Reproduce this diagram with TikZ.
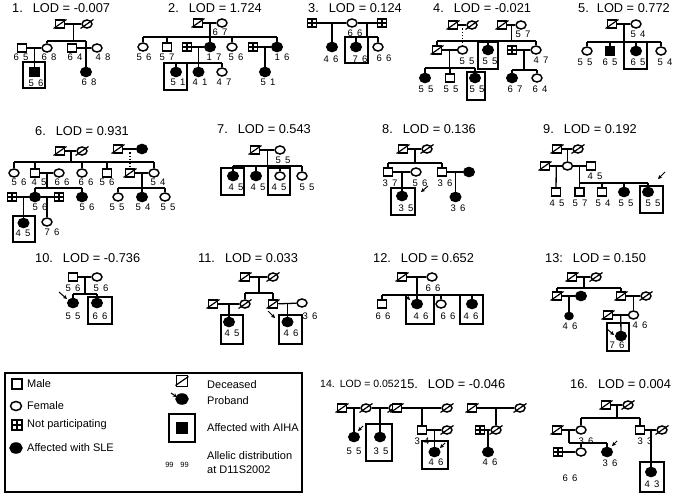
\documentclass[tikz,border=0pt]{standalone}
\usepackage{fontspec}
\setmainfont{Liberation Sans}
\usetikzlibrary{shapes.geometric,calc,arrows.meta}
\newcommand{\allel}[2]{#1\hspace{0.45em}#2}
\newcommand{\dcs}[1]{\draw[slash] ([shift={(-6.5,4.5)}]#1.center) -- ([shift={(6.5,-4.5)}]#1.center);}
\newcommand{\mate}[3]{\draw[ped] (#1) -- (#2); \coordinate (#3) at ($(#1)!.5!(#2)$);}
\begin{document}
\begin{tikzpicture}[x=1pt,y=-1pt,
 ped/.style={line width=1.3pt},
 sym/.style={draw, line width=1.5pt, inner sep=0pt, fill=white},
 male/.style={sym, rectangle, minimum width=9pt, minimum height=8pt},
 female/.style={sym, ellipse, minimum width=10pt, minimum height=8pt},
 affm/.style={male, fill=black},
 afff/.style={female, fill=black, minimum width=10.5pt, minimum height=9pt},
 np/.style={male, path picture={\draw[line width=1.6pt] (path picture bounding box.north) -- (path picture bounding box.south) (path picture bounding box.west) -- (path picture bounding box.east);}},
 al/.style={font=\fontsize{9.5}{10}\selectfont, inner sep=0pt},
 ttl/.style={font=\fontsize{12.8}{14}\selectfont, inner sep=0pt, anchor=west},
 lg/.style={font=\fontsize{11}{13}\selectfont, inner sep=0pt, anchor=west},
 abox/.style={draw, line width=1.1pt},
 slash/.style={line width=1.2pt},
 prob/.style={-{Stealth[length=4pt,width=4pt]}, line width=1pt}]
\useasboundingbox[fill=white] (0,0) rectangle (700,500);

% ---------- Family 1
\node[ttl] (t1) at (12,8) {1.\hspace{10pt}LOD = -0.007};
\node[male] (a1) at (60,24) {};
\node[female] (b1) at (87,24) {};
\node[male] (c1) at (22,48) {};
\node[female] (d1) at (47,48) {};
\node[male] (e1) at (72,48) {};
\node[female] (f1) at (97,48) {};
\node[affm] (g1) at (34.5,72) {};
\node[afff] (h1) at (86,72) {};
\dcs{a1}\dcs{b1}
\mate{a1}{b1}{m1a}
\coordinate (s1a) at (0,41);
\draw[ped] (m1a) -- (m1a |- s1a);
\draw[ped] (d1 |- s1a) -- (h1 |- s1a);
\draw[ped] (d1 |- s1a) -- (d1);
\draw[ped] (h1 |- s1a) -- (h1);
\mate{c1}{d1}{m1b}
\draw[ped] (m1b) -- (g1);
\mate{e1}{f1}{m1c}
\draw[abox] (23,62) rectangle (45,88);
\node[al] (l1a) at (21,57) {\allel{6}{5}};
\node[al] (l1b) at (49,57) {\allel{6}{8}};
\node[al] (l1c) at (75,57) {\allel{6}{4}};
\node[al] (l1d) at (103,57) {\allel{4}{8}};
\node[al] (l1e) at (36,83) {\allel{5}{6}};
\node[al] (l1f) at (89,82) {\allel{6}{8}};

% ---------- Family 2
\node[ttl] (t2) at (168,8) {2.\hspace{10pt}LOD = 1.724};
\node[male] (a2) at (198,23) {};
\node[female] (b2) at (222,23) {};
\node[female] (c2) at (143,47) {};
\node[male] (d2) at (167,47) {};
\node[np] (e2) at (187,47) {};
\node[afff] (f2) at (210,47) {};
\node[female] (g2) at (232,47) {};
\node[np] (h2) at (253,47) {};
\node[afff] (i2) at (277,47) {};
\node[afff] (j2) at (176,72) {};
\node[afff] (k2) at (198.5,72) {};
\node[female] (l2) at (222,72) {};
\node[afff] (m2) at (265,72) {};
\dcs{a2}
\mate{a2}{b2}{m2a}
\coordinate (s2a) at (0,37);
\draw[ped] (m2a) -- (m2a |- s2a);
\draw[ped] (c2 |- s2a) -- (i2 |- s2a);
\foreach \n in {c2,d2,f2,g2,i2} \draw[ped] (\n |- s2a) -- (\n);
\mate{e2}{f2}{m2b}
\coordinate (s2b) at (0,63);
\draw[ped] (m2b) -- (m2b |- s2b);
\draw[ped] (j2 |- s2b) -- (l2 |- s2b);
\foreach \n in {j2,k2,l2} \draw[ped] (\n |- s2b) -- (\n);
\mate{h2}{i2}{m2c}
\draw[ped] (m2c) -- (m2);
\draw[abox] (164,63) rectangle (187,90);
\node[al] (l2a) at (220,32) {\allel{6}{7}};
\node[al] (l2b) at (144,57) {\allel{5}{6}};
\node[al] (l2c) at (167,57) {\allel{5}{7}};
\node[al] (l2d) at (214,57) {\allel{1}{7}};
\node[al] (l2e) at (236,57) {\allel{5}{6}};
\node[al] (l2f) at (282,57) {\allel{1}{6}};
\node[al] (l2g) at (178,82) {\allel{5}{1}};
\node[al] (l2h) at (200,82) {\allel{4}{1}};
\node[al] (l2i) at (224,82) {\allel{4}{7}};
\node[al] (l2j) at (268,82) {\allel{5}{1}};

% ---------- Family 3
\node[ttl] (t3) at (308,8) {3.\hspace{10pt}LOD = 0.124};
\node[np] (a3) at (312,23) {};
\node[female] (b3) at (352,23) {};
\node[np] (c3) at (382,23) {};
\node[afff] (d3) at (332,47) {};
\node[afff] (e3) at (356,47) {};
\node[female] (f3) at (378,47) {};
\mate{a3}{b3}{m3a}
\draw[ped] (m3a) -- (d3);
\mate{b3}{c3}{m3b}
\coordinate (s3a) at (0,37);
\draw[ped] (m3b) -- (m3b |- s3a);
\draw[ped] (e3 |- s3a) -- (f3 |- s3a);
\foreach \n in {e3,f3} \draw[ped] (\n |- s3a) -- (\n);
\draw[abox] (345,37) rectangle (368,63);
\node[al] (l3a) at (355,33) {\allel{6}{6}};
\node[al] (l3b) at (331,59) {\allel{4}{6}};
\node[al] (l3c) at (360,59) {\allel{7}{6}};
\node[al] (l3d) at (384,58) {\allel{6}{6}};

% ---------- Family 4
\node[ttl] (t4) at (433,8) {4.\hspace{10pt}LOD = -0.021};
\node[male] (a4) at (453,25) {};
\node[female] (b4) at (472,25) {};
\node[male] (c4) at (502,25) {};
\node[female] (d4) at (521,25) {};
\node[male] (e4) at (437,50) {};
\node[female] (f4) at (462.5,50) {};
\node[afff] (g4) at (488,50) {};
\node[np] (h4) at (512,50) {};
\node[female] (i4) at (536,50) {};
\node[afff] (j4) at (425,78) {};
\node[male] (k4) at (450,78) {};
\node[afff] (l4) at (475,78) {};
\node[afff] (m4) at (512,78) {};
\node[female] (n4) at (537,78) {};
\dcs{a4}\dcs{b4}\dcs{c4}\dcs{e4}
\mate{a4}{b4}{m4a}
\draw[ped, dotted] (m4a) -- (f4);
\mate{c4}{d4}{m4b}
\coordinate (s4a) at (0,41);
\draw[ped] (m4b) -- (m4b |- s4a);
\draw[ped] (e4 |- s4a) -- (i4 |- s4a);
\foreach \n in {e4,g4,i4} \draw[ped] (\n |- s4a) -- (\n);
\mate{e4}{f4}{m4c}
\coordinate (s4b) at (0,68);
\draw[ped] (m4c) -- (m4c |- s4b);
\draw[ped] (j4 |- s4b) -- (l4 |- s4b);
\foreach \n in {j4,k4,l4} \draw[ped] (\n |- s4b) -- (\n);
\mate{h4}{i4}{m4d}
\coordinate (s4c) at (0,70);
\draw[ped] (m4d) -- (m4d |- s4c);
\draw[ped] (m4 |- s4c) -- (n4 |- s4c);
\foreach \n in {m4,n4} \draw[ped] (\n |- s4c) -- (\n);
\draw[abox] (478,42) rectangle (498,69);
\draw[abox] (467,72) rectangle (485,100);
\node[al] (l4a) at (523,34) {\allel{5}{7}};
\node[al] (l4b) at (467,61) {\allel{5}{5}};
\node[al] (l4c) at (490,61) {\allel{5}{5}};
\node[al] (l4d) at (541,60) {\allel{4}{7}};
\node[al] (l4e) at (426,89) {\allel{5}{5}};
\node[al] (l4f) at (451,89) {\allel{5}{5}};
\node[al] (l4g) at (477,89) {\allel{5}{5}};
\node[al] (l4h) at (515,89) {\allel{6}{7}};
\node[al] (l4i) at (540,89) {\allel{6}{4}};

% ---------- Family 5
\node[ttl] (t5) at (578,8) {5.\hspace{8pt}LOD = 0.772};
\node[male] (a5) at (612,24) {};
\node[female] (b5) at (636,24) {};
\node[female] (c5) at (587,51) {};
\node[affm] (d5) at (610,51) {};
\node[afff] (e5) at (636,51) {};
\node[female] (f5) at (661,51) {};
\dcs{a5}
\mate{a5}{b5}{m5a}
\coordinate (s5a) at (0,42);
\draw[ped] (m5a) -- (m5a |- s5a);
\draw[ped] (c5 |- s5a) -- (f5 |- s5a);
\foreach \n in {c5,d5,e5,f5} \draw[ped] (\n |- s5a) -- (\n);
\draw[abox] (624,42) rectangle (647,69);
\node[al] (l5a) at (638,34) {\allel{5}{4}};
\node[al] (l5b) at (585,62) {\allel{5}{5}};
\node[al] (l5c) at (610,62) {\allel{6}{5}};
\node[al] (l5d) at (638,62) {\allel{6}{5}};
\node[al] (l5e) at (665,62) {\allel{5}{4}};

% ---------- Family 6
\node[ttl] (t6) at (35,131) {6.\hspace{10pt}LOD = 0.931};
\node[male] (a6) at (60,151) {};
\node[female] (b6) at (82,151) {};
\node[male] (c6) at (118,149) {};
\node[afff] (d6) at (142,149) {};
\node[female] (e6) at (14,173) {};
\node[male] (f6) at (35,173) {};
\node[female] (g6) at (59,173) {};
\node[female] (h6) at (82,173) {};
\node[male] (i6) at (107,173) {};
\node[male] (j6) at (130,173) {};
\node[female] (k6) at (154,173) {};
\node[np] (n6) at (12,197) {};
\node[afff] (l6) at (35,197) {};
\node[np] (o6) at (59,197) {};
\node[afff] (m6) at (82,197) {};
\node[female] (p6) at (118,197) {};
\node[afff] (q6) at (142,197) {};
\node[female] (r6) at (165,197) {};
\node[afff] (s6) at (23.5,223) {};
\node[female] (t6b) at (47,222) {};
\dcs{a6}\dcs{b6}\dcs{c6}\dcs{j6}
\mate{a6}{b6}{m6a}
\coordinate (s6a) at (0,162);
\draw[ped] (m6a) -- (m6a |- s6a);
\draw[ped] (e6 |- s6a) -- (k6 |- s6a);
\foreach \n in {e6,f6,h6,i6,k6} \draw[ped] (\n |- s6a) -- (\n);
\mate{c6}{d6}{m6b}
\draw[ped, dotted] (m6b) -- (j6);
\mate{f6}{g6}{m6c}
\coordinate (s6b) at (0,188);
\draw[ped] (m6c) -- (m6c |- s6b);
\draw[ped] (l6 |- s6b) -- (m6 |- s6b);
\foreach \n in {l6,m6} \draw[ped] (\n |- s6b) -- (\n);
\mate{j6}{k6}{m6d}
\draw[ped] (m6d) -- (m6d |- s6b);
\draw[ped] (p6 |- s6b) -- (r6 |- s6b);
\foreach \n in {p6,q6,r6} \draw[ped] (\n |- s6b) -- (\n);
\mate{n6}{l6}{m6e}
\draw[ped] (m6e) -- (s6);
\mate{l6}{o6}{m6f}
\draw[ped] (m6f) -- (t6b);
\draw[abox] (13,216) rectangle (35,242);
\node[al] (l6a) at (19,182) {\allel{5}{6}};
\node[al] (l6b) at (39,182) {\allel{4}{5}};
\node[al] (l6c) at (62,182) {\allel{6}{6}};
\node[al] (l6d) at (86,182) {\allel{6}{6}};
\node[al] (l6e) at (107,182) {\allel{5}{6}};
\node[al] (l6f) at (158,182) {\allel{5}{4}};
\node[al] (l6g) at (40,207) {\allel{5}{6}};
\node[al] (l6h) at (87,207) {\allel{5}{6}};
\node[al] (l6i) at (117,207) {\allel{5}{5}};
\node[al] (l6j) at (143,207) {\allel{5}{4}};
\node[al] (l6k) at (168,207) {\allel{5}{5}};
\node[al] (l6l) at (23,233) {\allel{4}{5}};
\node[al] (l6m) at (52,232) {\allel{7}{6}};

% ---------- Family 7
\node[ttl] (t7) at (217,129) {7.\hspace{10pt}LOD = 0.543};
\node[male] (a7) at (255,150) {};
\node[female] (b7) at (280,150) {};
\node[afff] (c7) at (233,176) {};
\node[afff] (d7) at (256,176) {};
\node[female] (e7) at (280,176) {};
\node[female] (f7) at (302,176) {};
\dcs{a7}
\mate{a7}{b7}{m7a}
\coordinate (s7a) at (0,166);
\draw[ped] (m7a) -- (m7a |- s7a);
\draw[ped] (c7 |- s7a) -- (f7 |- s7a);
\foreach \n in {c7,d7,e7,f7} \draw[ped] (\n |- s7a) -- (\n);
\draw[abox] (221,168) rectangle (244,195);
\draw[abox] (268,168) rectangle (290,195);
\node[al] (l7a) at (283,160) {\allel{5}{5}};
\node[al] (l7b) at (236,187) {\allel{4}{5}};
\node[al] (l7c) at (258,187) {\allel{4}{5}};
\node[al] (l7d) at (279,187) {\allel{4}{5}};
\node[al] (l7e) at (307,187) {\allel{5}{5}};

% ---------- Family 8
\node[ttl] (t8) at (382,129) {8.\hspace{10pt}LOD = 0.136};
\node[male] (a8) at (403,149) {};
\node[female] (b8) at (427,149) {};
\node[male] (c8) at (388,172) {};
\node[female] (d8) at (416,172) {};
\node[male] (e8) at (442,172) {};
\node[afff] (f8) at (469,172) {};
\node[afff] (g8) at (402,196) {};
\node[afff] (h8) at (455.5,197) {};
\dcs{a8}\dcs{b8}
\mate{a8}{b8}{m8a}
\coordinate (s8a) at (0,163);
\draw[ped] (m8a) -- (m8a |- s8a);
\draw[ped] (c8 |- s8a) -- (e8 |- s8a);
\foreach \n in {c8,e8} \draw[ped] (\n |- s8a) -- (\n);
\mate{c8}{d8}{m8b}
\draw[ped] (m8b) -- (g8);
\mate{e8}{f8}{m8c}
\draw[ped] (m8c) -- (h8);
\draw[abox] (391,188) rectangle (415,215);
\draw[prob] (428,186) -- (421,192);
\node[al] (l8a) at (390,183) {\allel{3}{7}};
\node[al] (l8b) at (420,183) {\allel{5}{6}};
\node[al] (l8c) at (445,183) {\allel{3}{6}};
\node[al] (l8d) at (406,208) {\allel{3}{5}};
\node[al] (l8e) at (458,208) {\allel{3}{6}};

% ---------- Family 9
\node[ttl] (t9) at (543,129) {9.\hspace{10pt}LOD = 0.192};
\node[male] (a9) at (557,149) {};
\node[female] (b9) at (578,149) {};
\node[male] (c9) at (545,166) {};
\node[female] (d9) at (567.5,166) {};
\node[male] (e9) at (591,166) {};
\node[male] (f9) at (556,192) {};
\node[male] (g9) at (579.5,192) {};
\node[male] (h9) at (602,192) {};
\node[afff] (i9) at (624,192) {};
\node[afff] (j9) at (648,192) {};
\dcs{a9}\dcs{b9}\dcs{c9}
\mate{a9}{b9}{m9a}
\draw[ped] (m9a) -- (d9);
\mate{c9}{d9}{m9b}
\draw[ped] (m9b) -- (f9);
\mate{d9}{e9}{m9c}
\coordinate (s9a) at (0,183);
\draw[ped] (m9c) -- (m9c |- s9a);
\draw[ped] (g9 |- s9a) -- (j9 |- s9a);
\foreach \n in {g9,h9,i9,j9} \draw[ped] (\n |- s9a) -- (\n);
\draw[abox] (640,186) rectangle (663,213);
\draw[prob] (665,172) -- (658,179);
\node[al] (l9a) at (595,176) {\allel{4}{5}};
\node[al] (l9b) at (557,203) {\allel{4}{5}};
\node[al] (l9c) at (580,203) {\allel{5}{7}};
\node[al] (l9d) at (603,203) {\allel{5}{4}};
\node[al] (l9e) at (626,203) {\allel{5}{5}};
\node[al] (l9f) at (653,203) {\allel{5}{5}};

% ---------- Family 10
\node[ttl] (t10) at (35,258) {10.\hspace{10pt}LOD = -0.736};
\node[male] (a10) at (73,277) {};
\node[female] (b10) at (97,277) {};
\node[afff] (c10) at (73,303) {};
\node[afff] (d10) at (97,303) {};
\mate{a10}{b10}{m10a}
\coordinate (s10a) at (0,294);
\draw[ped] (m10a) -- (m10a |- s10a);
\draw[ped] (c10 |- s10a) -- (d10 |- s10a);
\foreach \n in {c10,d10} \draw[ped] (\n |- s10a) -- (\n);
\draw[abox] (88,297) rectangle (112,324);
\draw[prob] (59,292) -- (67,299);
\node[al] (l10a) at (73,288) {\allel{5}{6}};
\node[al] (l10b) at (101,288) {\allel{5}{6}};
\node[al] (l10c) at (73,316) {\allel{5}{5}};
\node[al] (l10d) at (100,316) {\allel{6}{6}};

% ---------- Family 11
\node[ttl] (t11) at (198,258) {11.\hspace{10pt}LOD = 0.033};
\node[male] (a11) at (245,277) {};
\node[female] (b11) at (273,277) {};
\node[male] (c11) at (213,304) {};
\node[female] (d11) at (245,304) {};
\node[male] (e11) at (273,304) {};
\node[female] (f11) at (302,303) {};
\node[afff] (g11) at (229,322) {};
\node[afff] (h11) at (287.5,322) {};
\dcs{a11}\dcs{b11}\dcs{c11}\dcs{d11}\dcs{e11}
\mate{a11}{b11}{m11a}
\coordinate (s11a) at (0,293);
\draw[ped] (m11a) -- (m11a |- s11a);
\draw[ped] (d11 |- s11a) -- (e11 |- s11a);
\foreach \n in {d11,e11} \draw[ped] (\n |- s11a) -- (\n);
\mate{c11}{d11}{m11b}
\draw[ped] (m11b) -- (g11);
\mate{e11}{f11}{m11c}
\draw[ped] (m11c) -- (h11);
\draw[abox] (221,315) rectangle (243,344);
\draw[abox] (279,315) rectangle (302,344);
\draw[prob] (268,311) -- (275,318);
\node[al] (l11a) at (310,316) {\allel{3}{6}};
\node[al] (l11b) at (232,333) {\allel{4}{5}};
\node[al] (l11c) at (291,333) {\allel{4}{6}};

% ---------- Family 12
\node[ttl] (t12) at (373,258) {12.\hspace{10pt}LOD = 0.652};
\node[male] (a12) at (402,277) {};
\node[female] (b12) at (432,277) {};
\node[male] (c12) at (382,304) {};
\node[afff] (d12) at (417,304) {};
\node[female] (e12) at (441,304) {};
\node[afff] (f12) at (472,304) {};
\dcs{a12}
\mate{a12}{b12}{m12a}
\coordinate (s12a) at (0,295);
\draw[ped] (m12a) -- (m12a |- s12a);
\draw[ped] (c12 |- s12a) -- (f12 |- s12a);
\foreach \n in {c12,d12,e12,f12} \draw[ped] (\n |- s12a) -- (\n);
\draw[abox] (406,295) rectangle (434,324);
\draw[abox] (460,295) rectangle (483,324);
\draw[prob] (404,294) -- (410,300);
\node[al] (l12a) at (433,288) {\allel{6}{6}};
\node[al] (l12b) at (383,316) {\allel{6}{6}};
\node[al] (l12c) at (421,316) {\allel{4}{6}};
\node[al] (l12d) at (448,316) {\allel{6}{6}};
\node[al] (l12e) at (471,316) {\allel{4}{6}};

% ---------- Family 13
\node[ttl] (t13) at (545,258) {13:\hspace{10pt}LOD = 0.150};
\node[male] (a13) at (572,277) {};
\node[female] (b13) at (596,277) {};
\node[male] (c13) at (557,296) {};
\node[afff] (d13) at (581,296) {};
\node[afff, minimum width=8pt, minimum height=7pt] (e13) at (569,316) {};
\node[male] (f13) at (621,296) {};
\node[female] (g13) at (646,296) {};
\node[male] (h13) at (608,315) {};
\node[female] (i13) at (633.5,315) {};
\node[afff] (j13) at (621,336) {};
\dcs{a13}\dcs{b13}\dcs{c13}\dcs{f13}\dcs{g13}\dcs{h13}
\mate{a13}{b13}{m13a}
\coordinate (s13a) at (0,288);
\draw[ped] (m13a) -- (m13a |- s13a);
\draw[ped] (c13 |- s13a) -- (f13 |- s13a);
\foreach \n in {c13,f13} \draw[ped] (\n |- s13a) -- (\n);
\mate{c13}{d13}{m13b}
\draw[ped] (m13b) -- (e13);
\mate{f13}{g13}{m13c}
\draw[ped] (m13c) -- (i13);
\mate{h13}{i13}{m13d}
\draw[ped] (m13d) -- (j13);
\draw[abox] (607,323) rectangle (629,351);
\draw[prob] (607,329) -- (614,335);
\node[al] (l13a) at (570,326) {\allel{4}{6}};
\node[al] (l13b) at (640,325) {\allel{4}{6}};
\node[al] (l13c) at (617,345) {\allel{7}{6}};

% ---------- Legend
\draw[line width=1.8pt] (5,373) rectangle (302,492);
\node[male, minimum width=10pt, minimum height=10pt] (lm) at (17,384) {};
\node[lg] (lmt) at (27,384) {Male};
\node[female, minimum width=11pt, minimum height=9pt] (lf) at (16,406) {};
\node[lg] (lft) at (27,406) {Female};
\node[np, minimum width=10pt, minimum height=10pt] (ln) at (17,425) {};
\node[lg] (lnt) at (27,425) {Not participating};
\node[afff, minimum width=12pt, minimum height=10pt] (la) at (16,448) {};
\node[lg] (lat) at (27,448) {Affected with SLE};
\node[male, minimum width=11pt, minimum height=11pt] (ld) at (182,381) {};
\dcs{ld}
\node[afff, minimum width=12pt, minimum height=10pt] (lp) at (182,399) {};
\draw[prob] (171,393) -- (177,397);
\node[lg] (ldt) at (207,385) {Deceased};
\node[lg] (lpt) at (207,401) {Proband};
\draw[abox] (169,414) rectangle (195,442);
\node[affm, minimum width=11pt, minimum height=11pt] (lx) at (182,428) {};
\node[lg] (lxt) at (207,428) {Affected with AIHA};
\node[inner sep=0pt, font=\fontsize{7.5}{8}\selectfont] (l99) at (177,465) {99\hspace{0.9em}99};
\node[lg] (lyt) at (207,456) {Allelic distribution};
\node[lg] (lzt) at (207,470) {at D11S2002};

% ---------- Family 14
\node[ttl, font=\fontsize{10.5}{12}\selectfont] (t14) at (320,384) {14.\hspace{5pt}LOD = 0.052};
\node[male] (a14) at (342,408) {};
\node[female] (b14) at (366,408) {};
\node[female] (c14) at (394,408) {};
\node[afff] (d14) at (354,437) {};
\node[afff] (e14) at (380,437) {};
\dcs{a14}\dcs{b14}\dcs{c14}
\mate{a14}{b14}{m14a}
\mate{b14}{c14}{m14b}
\draw[ped] (m14a) -- (d14);
\draw[ped] (m14b) -- (e14);
\draw[abox] (366,424) rectangle (392,461);
\draw[prob] (363,426) -- (358,431);
\node[al] (l14a) at (354,451) {\allel{5}{5}};
\node[al] (l14b) at (381,451) {\allel{3}{5}};

% ---------- Family 15
\node[ttl] (t15) at (400,384) {15.\hspace{10pt}LOD = -0.046};
\node[male] (a15) at (397,408) {};
\node[female] (b15) at (447,408) {};
\node[male] (c15) at (472,408) {};
\node[female] (d15) at (520,408) {};
\node[male] (e15) at (422,430) {};
\node[female] (f15) at (447,430) {};
\node[np] (g15) at (480,430) {};
\node[female] (h15) at (496,430) {};
\node[afff] (i15) at (434.5,452) {};
\node[afff] (j15) at (488,452) {};
\dcs{a15}\dcs{b15}\dcs{c15}\dcs{d15}\dcs{f15}\dcs{h15}
\mate{a15}{b15}{m15a}
\draw[ped] (m15a) -- (e15);
\mate{c15}{d15}{m15b}
\draw[ped] (m15b) -- (h15);
\mate{e15}{f15}{m15c}
\draw[ped] (m15c) -- (i15);
\mate{g15}{h15}{m15d}
\draw[ped] (m15d) -- (j15);
\draw[abox] (422,441) rectangle (448,469);
\draw[prob] (445,443) -- (440,448);
\node[al] (l15a) at (422,441) {\allel{3}{4}};
\node[al] (l15b) at (436,462) {\allel{4}{6}};
\node[al] (l15c) at (490,462) {\allel{4}{6}};

% ---------- Family 16
\node[ttl] (t16) at (570,384) {16.\hspace{10pt}LOD = 0.004};
\node[male] (a16) at (606,405) {};
\node[female] (b16) at (628,405) {};
\node[male] (c16) at (557,430) {};
\node[female] (d16) at (581,430) {};
\node[male] (e16) at (640,430) {};
\node[female] (f16) at (662,430) {};
\node[np] (g16) at (558,452) {};
\node[female] (h16) at (581,452) {};
\node[afff] (i16) at (607,452) {};
\node[afff] (j16) at (651,472) {};
\dcs{a16}\dcs{b16}\dcs{c16}\dcs{f16}
\mate{a16}{b16}{m16a}
\coordinate (s16a) at (0,418);
\draw[ped] (m16a) -- (m16a |- s16a);
\draw[ped] (d16 |- s16a) -- (e16 |- s16a);
\foreach \n in {d16,e16} \draw[ped] (\n |- s16a) -- (\n);
\mate{c16}{d16}{m16b}
\coordinate (s16b) at (0,443);
\draw[ped] (m16b) -- (m16b |- s16b);
\draw[ped] (m16b |- s16b) -- (i16 |- s16b);
\foreach \n in {h16,i16} \draw[ped] (\n |- s16b) -- (\n);
\mate{g16}{h16}{m16d}
\mate{e16}{f16}{m16c}
\draw[ped] (m16c) -- (j16);
\draw[abox] (640,462) rectangle (664,492);
\draw[prob] (617,441) -- (612,446);
\node[al] (l16a) at (586,441) {\allel{3}{6}};
\node[al] (l16b) at (645,441) {\allel{3}{3}};
\node[al] (l16c) at (610,463) {\allel{3}{6}};
\node[al] (l16d) at (570,478) {\allel{6}{6}};
\node[al] (l16e) at (652,484) {\allel{4}{3}};
\end{tikzpicture}
\end{document}
